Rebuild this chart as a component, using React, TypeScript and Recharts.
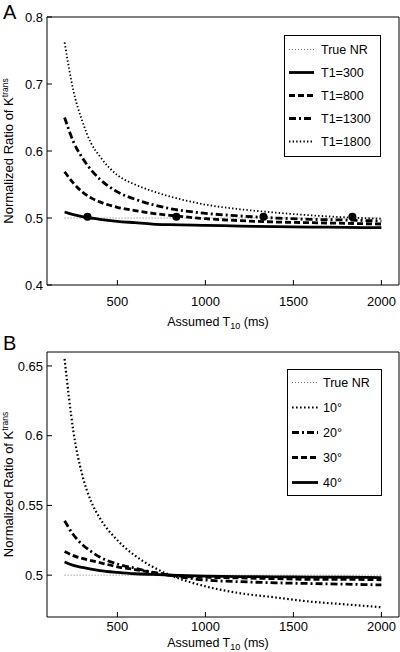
import {
  ComposedChart,
  Legend,
  Line,
  Scatter,
  XAxis,
  YAxis,
} from "recharts";

const FONT = '"Liberation Sans", Arial, Helvetica, sans-serif';

// assumed T10 (ms)
const T10 = [200, 250, 300, 350, 400, 500, 600, 700, 800, 1000, 1200, 1400, 1600, 1800, 2000];
const trueNR = [0.5, 0.5, 0.5, 0.5, 0.5, 0.5, 0.5, 0.5, 0.5, 0.5, 0.5, 0.5, 0.5, 0.5, 0.5];

// panel A: true T1 values
const t1_300 = [0.509, 0.505, 0.502, 0.5, 0.498, 0.495, 0.493, 0.491, 0.49, 0.489, 0.488, 0.487, 0.4865, 0.486, 0.4855];
const t1_800 = [0.569, 0.552, 0.539, 0.53, 0.524, 0.516, 0.511, 0.507, 0.504, 0.499, 0.496, 0.494, 0.493, 0.492, 0.491];
const t1_1300 = [0.65, 0.614, 0.59, 0.572, 0.558, 0.539, 0.528, 0.52, 0.514, 0.507, 0.503, 0.5, 0.498, 0.497, 0.4955];
const t1_1800 = [0.762, 0.69, 0.645, 0.612, 0.592, 0.564, 0.55, 0.54, 0.532, 0.52, 0.513, 0.508, 0.504, 0.501, 0.499];
const dotT = [330, 835, 1330, 1835];
const dotV = [0.502, 0.502, 0.502, 0.502];

// panel B: flip angles
const fa10 = [0.655, 0.603, 0.572, 0.553, 0.541, 0.525, 0.514, 0.506, 0.5, 0.492, 0.487, 0.484, 0.481, 0.479, 0.477];
const fa20 = [0.539, 0.529, 0.522, 0.517, 0.513, 0.508, 0.505, 0.502, 0.4998, 0.4965, 0.4953, 0.4945, 0.494, 0.4935, 0.493];
const fa30 = [0.517, 0.514, 0.512, 0.5105, 0.509, 0.506, 0.504, 0.502, 0.5, 0.4985, 0.498, 0.4975, 0.497, 0.497, 0.4967];
const fa40 = [0.5095, 0.507, 0.5055, 0.5043, 0.5033, 0.502, 0.501, 0.5005, 0.5, 0.4993, 0.499, 0.4988, 0.4986, 0.4985, 0.4983];

const xTicks = [500, 1000, 1500, 2000];
const yTicksA = [0.4, 0.5, 0.6, 0.7, 0.8];
const yTicksB = [0.5, 0.55, 0.6, 0.65];

type LineStyle = { stroke: string; strokeWidth: number; strokeDasharray?: string };

const STYLES: Record<string, LineStyle> = {
  nr: { stroke: "#777", strokeWidth: 1, strokeDasharray: "1 2" },
  solid: { stroke: "#000", strokeWidth: 2.8 },
  dashed: { stroke: "#000", strokeWidth: 2.8, strokeDasharray: "6 3" },
  dashdot: { stroke: "#000", strokeWidth: 2.8, strokeDasharray: "7 3 2 3" },
  dotted: { stroke: "#000", strokeWidth: 1.8, strokeDasharray: "1.4 2.2" },
  dottedBold: { stroke: "#000", strokeWidth: 2.2, strokeDasharray: "1.6 2.4" },
};

type Series = { key: string; name: string; values: number[]; style: string };

const seriesA: Series[] = [
  { key: "nr", name: "True NR", values: trueNR, style: "nr" },
  { key: "a300", name: "T1=300", values: t1_300, style: "solid" },
  { key: "a800", name: "T1=800", values: t1_800, style: "dashed" },
  { key: "a1300", name: "T1=1300", values: t1_1300, style: "dashdot" },
  { key: "a1800", name: "T1=1800", values: t1_1800, style: "dotted" },
];

const seriesB: Series[] = [
  { key: "nr", name: "True NR", values: trueNR, style: "nr" },
  { key: "b10", name: "10°", values: fa10, style: "dottedBold" },
  { key: "b20", name: "20°", values: fa20, style: "dashdot" },
  { key: "b30", name: "30°", values: fa30, style: "dashed" },
  { key: "b40", name: "40°", values: fa40, style: "solid" },
];

const toRows = (series: Series[]) =>
  T10.map((t, i) => {
    const row: Record<string, number> = { t };
    series.forEach((s) => (row[s.key] = s.values[i]));
    return row;
  });

const dotsA = dotT.map((t, i) => ({ t, v: dotV[i] }));

const YTitle = ({ viewBox }: any) => {
  const cx = 13;
  const cy = viewBox.y + viewBox.height / 2;
  return (
    <text
      x={cx}
      y={cy}
      transform={`rotate(-90 ${cx} ${cy})`}
      textAnchor="middle"
      fontSize={13}
      fontFamily={FONT}
      fill="#000"
    >
      Normalized Ratio of K
      <tspan dy={-5} fontSize={8.5}>
        trans
      </tspan>
    </text>
  );
};

const XTitle = ({ viewBox, baseline }: any) => {
  const cx = viewBox.x + viewBox.width / 2 - 5;
  return (
    <text x={cx} y={baseline} textAnchor="middle" fontSize={12.5} fontFamily={FONT} fill="#000">
      Assumed T
      <tspan dy={3} fontSize={9}>
        10
      </tspan>
      <tspan dy={-3}> (ms)</tspan>
    </text>
  );
};

const LegendBox = ({
  items,
  rowH,
  padTop,
  padLeft,
  sampleW,
  gap,
}: {
  items: Series[];
  rowH: number;
  padTop: number;
  padLeft: number;
  sampleW: number;
  gap: number;
}) => (
  <div
    style={{
      border: "1.3px solid #000",
      background: "#fff",
      boxSizing: "border-box",
      width: "100%",
      height: "100%",
      paddingTop: padTop,
      fontFamily: FONT,
      fontSize: 12.5,
      color: "#000",
    }}
  >
    {items.map((it) => {
      const st = STYLES[it.style];
      return (
        <div key={it.key} style={{ display: "flex", alignItems: "center", height: rowH }}>
          <svg width={sampleW} height={rowH} style={{ marginLeft: padLeft, marginRight: gap }}>
            <line x1={0} x2={sampleW} y1={rowH / 2} y2={rowH / 2} {...st} />
          </svg>
          <span>{it.name}</span>
        </div>
      );
    })}
  </div>
);

const Panel = ({
  series,
  yDomain,
  yTicks,
  top,
  height,
  marginTop,
  xAxisH,
  tickGap,
  titleBaseline,
  legendPos,
  legendRow,
  legendPadTop,
  legendPadLeft,
  legendSampleW,
  legendGap,
  letter,
  letterTop,
  dots,
}: any) => {
  const data = toRows(series);
  return (
    <div style={{ position: "absolute", left: 0, top, width: 400, height }}>
      <div
        style={{
          position: "absolute",
          left: 3,
          top: letterTop,
          fontFamily: FONT,
          fontSize: 20,
          lineHeight: "20px",
          zIndex: 2,
        }}
      >
        {letter}
      </div>
      <ComposedChart
        width={400}
        height={height}
        data={data}
        margin={{ top: marginTop, right: 1, bottom: 0, left: 0 }}
      >
        <XAxis
          dataKey="t"
          type="number"
          domain={[100, 2100]}
          ticks={xTicks}
          height={xAxisH}
          tickSize={-5}
          tickMargin={tickGap}
          stroke="#000"
          tick={{ fontSize: 13, fill: "#000", fontFamily: FONT }}
          label={{ content: (p: any) => <XTitle {...p} baseline={titleBaseline} /> }}
        />
        <XAxis
          xAxisId="top"
          orientation="top"
          mirror
          dataKey="t"
          type="number"
          domain={[100, 2100]}
          ticks={xTicks}
          tick={false}
          tickSize={5}
          stroke="#000"
        />
        <YAxis
          type="number"
          domain={yDomain}
          ticks={yTicks}
          width={47}
          tickSize={-5}
          tickMargin={9}
          stroke="#000"
          tick={{ fontSize: 13, fill: "#000", fontFamily: FONT }}
          label={{ content: (p: any) => <YTitle {...p} /> }}
        />
        <YAxis
          yAxisId="right"
          orientation="right"
          mirror
          type="number"
          domain={yDomain}
          ticks={yTicks}
          tick={false}
          tickSize={5}
          stroke="#000"
        />
        {series.map((s: Series) => (
          <Line
            key={s.key}
            dataKey={s.key}
            name={s.name}
            type="monotone"
            dot={false}
            activeDot={false}
            isAnimationActive={false}
            strokeLinecap="butt"
            {...STYLES[s.style]}
          />
        ))}
        {dots && (
          <Scatter
            data={dots}
            dataKey="v"
            fill="#000"
            isAnimationActive={false}
            shape={(p: any) => <circle cx={p.cx} cy={p.cy} r={4} fill="#000" />}
          />
        )}
        <Legend
          layout="vertical"
          align="center"
          verticalAlign="middle"
          wrapperStyle={{
            position: "absolute",
            left: legendPos.left,
            top: legendPos.top,
            width: legendPos.width,
            height: legendPos.height,
          }}
          content={() => (
            <LegendBox
              items={series}
              rowH={legendRow}
              padTop={legendPadTop}
              padLeft={legendPadLeft}
              sampleW={legendSampleW}
              gap={legendGap}
            />
          )}
        />
      </ComposedChart>
    </div>
  );
}

export default function App() {
  return (
    <div style={{ position: "absolute", left: 0, top: 0, width: 400, height: 652, background: "#fff" }}>
      <Panel
        series={seriesB}
        yDomain={[0.47, 0.66]}
        yTicks={yTicksB}
        top={330}
        height={322}
        marginTop={22}
        xAxisH={35}
        tickGap={10}
        titleBaseline={317}
        legendPos={{ left: 287, top: 39, width: 95, height: 127 }}
        legendRow={25}
        legendPadTop={0}
        legendPadLeft={4}
        legendSampleW={26}
        legendGap={5}
        letter="B"
        letterTop={3}
      />
      <Panel
        series={seriesA}
        yDomain={[0.4, 0.8]}
        yTicks={yTicksA}
        top={0}
        height={333}
        marginTop={17}
        xAxisH={48}
        tickGap={17}
        titleBaseline={326}
        legendPos={{ left: 284, top: 35, width: 97, height: 122 }}
        legendRow={23}
        legendPadTop={2}
        legendPadLeft={4}
        legendSampleW={25}
        legendGap={7}
        letter="A"
        letterTop={2}
        dots={dotsA}
      />
    </div>
  );
}
